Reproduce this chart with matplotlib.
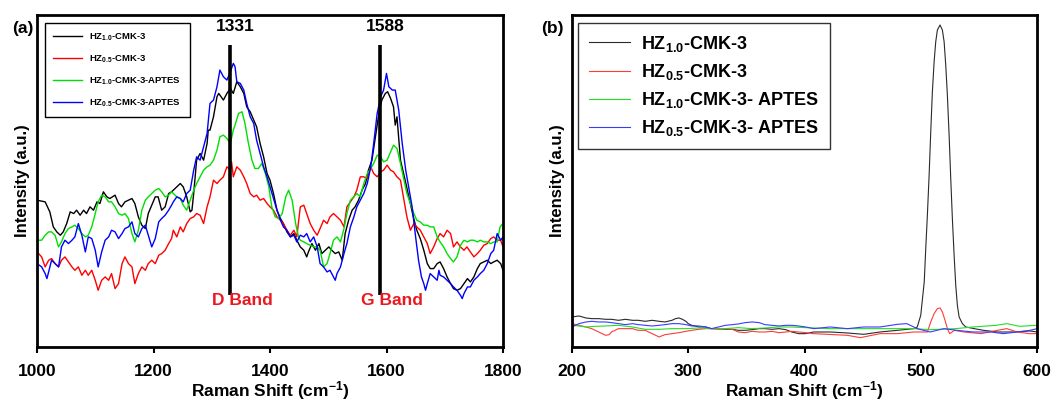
import numpy as np
import matplotlib
matplotlib.use("Agg")
import matplotlib.pyplot as plt

plt.rcParams['font.family'] = ['Liberation Sans', 'DejaVu Sans']
plt.rcParams['font.weight'] = 'bold'
plt.rcParams['mathtext.fontset'] = 'custom'
plt.rcParams['mathtext.rm'] = 'Liberation Sans:bold'
plt.rcParams['mathtext.bf'] = 'Liberation Sans:bold'
plt.rcParams['mathtext.it'] = 'Liberation Sans:bold'

# ---- (a) D / G band region ----
black_x = [1000, 1014, 1022, 1028, 1034, 1040, 1045, 1051, 1057, 1063, 1068, 1074, 1080, 1085, 1091, 1097, 1103, 1108, 1114, 1120,
           1125, 1134, 1140, 1145, 1151, 1157, 1163, 1168, 1174, 1180, 1186, 1191, 1197, 1203, 1208, 1214, 1220, 1226, 1231,
           1237, 1246, 1251, 1257, 1263, 1266, 1269, 1274, 1280, 1286, 1292, 1294, 1297, 1303, 1309, 1312, 1314, 1320, 1326, 1332,
           1337, 1343, 1349, 1355, 1360, 1366, 1372, 1377, 1383, 1389, 1395, 1400, 1406, 1412, 1418, 1423, 1429, 1435, 1441, 1446,
           1452, 1458, 1463, 1466, 1472, 1478, 1484, 1489, 1495, 1501, 1506, 1512, 1518, 1524, 1529, 1535, 1541, 1546, 1552, 1558,
           1564, 1569, 1575, 1581, 1587, 1592, 1598, 1602, 1607, 1612, 1615, 1618, 1624,
           1632, 1646, 1652, 1658, 1664, 1670, 1675, 1681, 1687, 1692, 1698, 1704, 1710, 1715, 1721, 1727, 1733, 1739, 1744, 1750,
           1756, 1761, 1767, 1773, 1779, 1784, 1790, 1796, 1800]
black_y = [44.0, 43.5, 40.5, 36, 34.5, 33.5, 34.5, 37, 40.5, 40, 41, 39.5, 41, 40, 42, 41, 43.5, 43, 46.5, 45,
           44.5, 45.5, 43, 42, 43.5, 44, 44.5, 43, 39, 36.5, 35.5, 40, 42.5, 45, 45, 41, 42, 46, 46.5,
           47.5, 49, 48, 45, 40.5, 41, 46, 56, 58, 56, 61, 65, 65, 69, 75, 76, 75.5, 74, 76, 77.5,
           76, 79.5, 78, 76, 72, 70.5, 68, 66, 61, 57, 52, 50, 46, 41, 38.5, 37, 34.5, 33, 34, 32,
           30, 29, 27, 28.5, 31, 29, 31, 28, 29, 30, 29, 28, 28.5, 26, 34, 38, 41, 42, 44, 47,
           49, 53, 56, 63, 70, 74, 76, 76.5, 74.5, 72, 66.5, 69, 56,
           50, 39, 35, 32.5, 29, 25, 23.5, 23.5, 25, 25.5, 23.5, 21, 19, 17.5, 17, 17.5, 19, 20.5, 19.5, 21,
           23.5, 25, 25.5, 26, 25, 25.5, 26, 25, 23]

red_x = [1000, 1008, 1014, 1020, 1025, 1031, 1037, 1042, 1048, 1054, 1060, 1065, 1071, 1077, 1083, 1088, 1094, 1100, 1105, 1111,
         1117, 1123, 1128, 1134, 1140, 1146, 1151, 1157, 1163, 1168, 1174, 1180, 1186, 1191, 1197, 1203, 1209, 1214, 1220, 1226, 1231,
         1234, 1240, 1246, 1251, 1257, 1263, 1269, 1274, 1280, 1286, 1292, 1297, 1303, 1309, 1314, 1320, 1326, 1332, 1334, 1337,
         1343, 1349, 1355, 1360, 1366, 1372, 1377, 1383, 1389, 1395, 1400, 1406, 1412, 1418, 1423, 1429, 1435, 1441, 1446,
         1452, 1458, 1463, 1469, 1475, 1481, 1486, 1492, 1498, 1503, 1509, 1515, 1521, 1527, 1532, 1538, 1544, 1549, 1555, 1561,
         1567, 1573, 1578, 1584, 1590, 1595, 1601, 1607, 1612, 1618, 1624, 1630, 1635, 1641,
         1647, 1652, 1658, 1664, 1670, 1675, 1681, 1687, 1692, 1698, 1704, 1710, 1715, 1721, 1727, 1733, 1738, 1744, 1750, 1756,
         1761, 1767, 1773, 1779, 1784, 1790, 1796, 1800]
red_y = [28.5, 27, 24, 26, 26.5, 25, 24, 26, 27, 25.5, 24, 23, 24, 21.5, 23, 21.5, 23, 20, 17, 20,
         21, 20, 22, 17.5, 19, 25, 27, 25, 24, 19, 22, 24, 23, 25, 26, 25, 27.5, 28, 29, 31, 32.5,
         35, 33, 36, 34.5, 37, 38.5, 39, 40, 39.5, 37, 42, 45, 50, 49, 50, 51, 54, 53, 55.5, 51,
         54, 53, 51, 49, 46, 45, 45.5, 44, 44.5, 43, 42, 41, 39, 38, 37, 35, 33.5, 35, 33,
         42, 42.5, 40, 37, 35, 33.5, 35.5, 38, 37, 39, 40, 39, 38, 36, 42, 43.5, 45, 47, 51, 51,
         50.5, 54, 52, 51, 52.5, 53, 54.5, 53, 52.5, 51, 50, 44, 39, 35,
         37, 36, 35, 33, 31, 28, 30, 32.5, 34, 33, 35, 34, 30, 31.5, 30, 29, 30, 28.5, 27, 28,
         29, 30.5, 31, 32.5, 33, 32, 32, 30]

green_x = [1000, 1008, 1014, 1020, 1025, 1031, 1037, 1042, 1048, 1054, 1060, 1065, 1071, 1077, 1083, 1088, 1094, 1100, 1105, 1111,
           1117, 1123, 1128, 1134, 1140, 1146, 1151, 1157, 1163, 1168, 1174, 1180, 1186, 1191, 1197, 1203, 1209, 1214, 1220, 1226, 1231,
           1234, 1240, 1246, 1251, 1257, 1263, 1269, 1274, 1280, 1286, 1292, 1297, 1303, 1309, 1314, 1320, 1326, 1332, 1337, 1340,
           1346, 1352, 1357, 1363, 1369, 1374, 1380, 1386, 1392, 1398, 1403, 1409, 1415, 1421, 1427, 1432, 1438, 1444, 1449,
           1452, 1458, 1463, 1469, 1475, 1481, 1486, 1492, 1498, 1503, 1509, 1515, 1521, 1527, 1532, 1538, 1544, 1549, 1555, 1561,
           1567, 1573, 1578, 1584, 1590, 1595, 1601, 1607, 1612, 1618, 1624, 1630, 1635, 1641, 1647,
           1652, 1658, 1664, 1670, 1675, 1681, 1687, 1692, 1698, 1704, 1710, 1715, 1721, 1727, 1733, 1739, 1744, 1750, 1756, 1761,
           1767, 1773, 1779, 1784, 1790, 1795, 1800]
green_y = [32, 32, 33.5, 34.5, 34.5, 33.5, 30, 31.5, 34, 35.5, 36, 36.5, 35.5, 34, 33, 33.5, 36, 40, 43.5, 45.5,
           45, 43.5, 43.5, 42, 40, 39.5, 40, 38.5, 34, 31.5, 35, 41, 44, 45, 46, 47, 47.5, 46.5, 45, 45.5, 46.5,
           46, 45, 44.5, 42.5, 41, 44, 47, 49, 51, 53, 54, 54.5, 56, 59, 63, 63.5, 62.5, 61, 65, 66.5,
           70, 70.5, 67, 61, 56, 53.5, 53.5, 55, 52, 48, 42, 39, 38.5, 40, 45, 47, 44, 37, 33,
           32, 31.5, 31, 30.5, 30, 30, 29, 24, 25, 28, 32, 33, 31.5, 35.5, 40, 44, 45, 46, 45, 49,
           52, 53.5, 55, 57.5, 57, 55.5, 56, 58.5, 60.5, 59.5, 55, 50, 46, 43, 40,
           38, 37.5, 36.5, 36.5, 36, 36, 33, 31.5, 30, 28, 26.5, 25.5, 27, 30.5, 32, 31.5, 32, 32, 31.5, 32,
           31.5, 31.5, 31, 31.5, 31.5, 36, 37]

blue_x = [1000, 1008, 1014, 1017, 1020, 1025, 1031, 1037, 1042, 1048, 1054, 1060, 1065, 1071, 1077, 1083, 1088, 1094, 1100, 1105,
          1111, 1117, 1123, 1128, 1134, 1140, 1146, 1151, 1157, 1163, 1168, 1174, 1180, 1186, 1191, 1197, 1203, 1209, 1214, 1220,
          1226, 1231,
          1234, 1240, 1246, 1251, 1257, 1263, 1269, 1274, 1280, 1286, 1292, 1297, 1303, 1309, 1314, 1320, 1326, 1332, 1337, 1340,
          1343, 1349, 1355, 1360, 1366, 1372, 1377, 1383, 1389, 1395, 1400, 1406, 1412, 1418, 1423, 1429, 1435, 1441, 1446,
          1452, 1458, 1463, 1469, 1475, 1481, 1486, 1492, 1498, 1503, 1509, 1512, 1515, 1521, 1527, 1532, 1538, 1544, 1549, 1555,
          1561, 1567, 1573, 1578, 1584, 1590, 1595, 1600, 1604, 1610, 1615, 1621, 1627, 1633, 1638,
          1644, 1650, 1655, 1660, 1664, 1667, 1670, 1675, 1681, 1687, 1690, 1692, 1698, 1704, 1710, 1715, 1721, 1727, 1730, 1733,
          1739, 1744, 1750, 1756, 1761, 1767, 1773, 1779, 1784, 1790, 1796, 1800]
blue_y = [25, 24, 22, 20.5, 22.5, 26, 25, 24, 30, 32, 31, 32, 33, 37, 33.5, 28.5, 33, 32.5, 29, 24,
          28.5, 32, 33, 35, 34.5, 32.5, 34, 35.5, 36, 37.5, 34, 33, 35.5, 36.5, 33.5, 30, 32.5, 37.5, 38.5, 39.5,
          41, 42.5,
          43.5, 45, 44.5, 43.5, 46, 47, 53, 57, 56, 60, 64, 73, 74, 78, 83, 81, 80, 82.5, 85, 84,
          79.5, 79, 77, 73, 69, 67, 62, 58, 54, 51, 48, 44.5, 41, 38, 36, 35, 33, 33.5, 31.5,
          33.5, 33, 34, 31.5, 33, 30, 25, 24, 22.5, 23, 21, 20, 22, 24, 28, 31, 36, 39, 42, 44,
          46, 49, 54, 61, 70, 75, 77, 82, 78, 77, 77, 71, 61, 53, 48,
          42, 33, 26, 21, 19, 17, 19, 22, 21, 20, 23, 21.5, 21, 20, 19, 18, 17, 15.5, 14.5, 16,
          18, 18, 20, 21, 22, 23, 25, 28, 29, 34, 32, 33]

band_pos = [1331, 1588]
band_names = ['D Band', 'G Band']

# ---- (b) low-wavenumber region ----
black_b_x = [200, 206, 212, 217, 223, 229, 234, 240, 246, 252, 257, 263, 269, 275, 280, 286, 289, 292, 295, 298,
             300, 303, 306, 309, 315, 320, 326, 332, 338, 343, 349, 355, 361, 366, 372, 378, 384, 389, 395, 401,
             408, 422, 437, 451, 465, 480, 494, 497, 500, 503, 504.3, 505.7, 507.2, 508.6, 510, 511.5, 512.9, 514.3,
             516.6, 518.6, 520.1, 521.5, 522.9, 524.4, 525.8, 527.2, 528.7, 530.1, 531.5, 533, 535.8, 538.7,
             546, 554, 566, 580, 594, 600]
black_b_y = [9, 9.3, 8.7, 8.5, 8.5, 8.3, 8.3, 8, 8.3, 8, 8, 7.7, 8, 7.7, 7.5, 8, 8.5, 8.7, 8.3, 7.7,
             7, 6.5, 6.3, 6, 6, 5.5, 5.5, 5.3, 5.3, 5, 5, 5.2, 5.5, 5.5, 5.3, 5.5, 5.2, 4.5, 4, 4,
             4.5, 4.5, 4.2, 3.8, 4.5, 5, 5.5, 6, 9.5, 19.5, 29.5, 39.5, 51.5, 64.5, 76.5, 85.5, 91.5, 95,
             96.5, 95, 91.5, 84.5, 75.5, 63.5, 50.5, 38.5, 27.5, 18.5, 12.5, 9, 7, 6,
             5.5, 5, 4.5, 4.5, 4.8, 4.5]

red_b_x = [200, 206, 212, 217, 223, 226, 229, 232, 234, 240, 246, 252, 257, 263, 269, 272, 275, 277, 280, 286,
           292, 298, 303, 309, 315, 320, 326, 332, 338, 343, 349, 355, 361, 366, 372, 378, 384, 389, 395, 401,
           408, 437, 448, 465, 480, 494, 505.7, 508.6, 511.5, 514.3, 516.6, 518.6, 520.9, 522.9, 524.9,
           529, 537, 552, 566, 574, 583, 594, 600]
red_b_y = [7, 6.5, 6, 5.5, 4.5, 4, 3.5, 3.7, 4.5, 5.5, 5.5, 5.5, 5, 5, 4, 3.5, 3, 3.3, 3.7, 4,
           4.3, 4.7, 5, 5.3, 5.5, 5.5, 5.3, 5.5, 5.3, 4.5, 4.3, 4.7, 4.5, 4.5, 4.7, 4.3, 4.5, 4.7, 4.5, 4.3,
           4, 3.5, 2.8, 4, 4, 4.5, 4.5, 7.5, 10, 11.5, 11.7, 10.5, 8, 5.5, 4,
           5, 4.5, 4, 5, 5.5, 4.5, 4, 4]

green_b_x = [200, 206, 212, 220, 229, 240, 252, 263, 275, 286, 298, 309, 320, 332, 343, 355, 366, 378, 389, 401,
             422, 451, 480, 494, 508, 530, 545, 565, 574, 585, 600]
green_b_y = [6.5, 6.3, 6, 6.2, 6.3, 6.5, 6, 5.3, 5.3, 5.5, 5.5, 5.7, 5.5, 5.5, 5.8, 5.5, 5.7, 6, 6, 5.8,
             5.5, 5.5, 5.5, 5.5, 5.2, 5.5, 6, 6.5, 7, 6.2, 6.5]

blue_b_x = [200, 203, 206, 212, 217, 223, 229, 234, 240, 246, 252, 257, 263, 269, 275, 280, 286, 292, 298, 303,
            309, 315, 320, 326, 332, 338, 343, 349, 355, 361, 366, 372, 378, 384, 389, 395, 401, 408, 422, 437,
            451, 465, 480, 488, 497, 508, 520, 531, 545, 560, 571, 583, 594, 600]
blue_b_y = [6, 6.5, 7, 7.5, 7.7, 7.5, 7.5, 7.3, 7, 6.7, 7, 6.7, 6.5, 6.3, 6.5, 6.7, 7, 7, 6.7, 6.3,
            6.3, 6, 5.5, 6, 6.5, 6.7, 6.9, 7.3, 7.5, 7.3, 6.7, 6.5, 6.3, 6.5, 6.5, 6.3, 6, 5.5, 6, 5.5,
            6, 6, 6.8, 7, 5.5, 4.5, 5.5, 5, 4.5, 4.5, 4, 4.5, 5, 5.5]

labels_a = [r'HZ$_{1.0}$-CMK-3', r'HZ$_{0.5}$-CMK-3', r'HZ$_{1.0}$-CMK-3-APTES', r'HZ$_{0.5}$-CMK-3-APTES']
labels_b = [r'HZ$_{1.0}$-CMK-3', r'HZ$_{0.5}$-CMK-3', r'HZ$_{1.0}$-CMK-3- APTES', r'HZ$_{0.5}$-CMK-3- APTES']

fig = plt.figure(figsize=(10.62, 4.05), dpi=100)
ax1 = fig.add_axes([37 / 1062, 58 / 405, 466 / 1062, 332 / 405])
ax2 = fig.add_axes([572 / 1062, 58 / 405, 465 / 1062, 332 / 405])

series_a = [(black_x, black_y, 'black'), (red_x, red_y, 'red'),
            (green_x, green_y, '#00e000'), (blue_x, blue_y, 'blue')]
for (xs, ys, c), lab in zip(series_a, labels_a):
    ax1.plot(xs, ys, color=c, lw=1.0, label=lab)

for pos, name, num in zip(band_pos, band_names, ['1331', '1588']):
    ax1.plot([pos, pos], [15.5, 90.5], color='black', lw=2.6, solid_capstyle='butt')
    ax1.text(pos + 10, 96, num, ha='center', va='center', fontsize=12.5, fontweight='bold')
    ax1.text(pos + 22, 14, name, ha='center', va='center', fontsize=12.5, fontweight='bold', color='#e8191f')

ax1.set_xlim(1000, 1800)
ax1.set_ylim(0, 99.5)
ax1.set_xticks([1000, 1200, 1400, 1600, 1800])
ax1.set_yticks([])
ax1.set_xlabel('Raman Shift (cm$^{-1}$)', fontsize=12.5, fontweight='bold', labelpad=0)
ax1.set_ylabel('Intensity (a.u.)', fontsize=12, fontweight='bold', labelpad=5)
leg1 = ax1.legend(loc='upper left', bbox_to_anchor=(0.017, 0.976), borderaxespad=0, fancybox=False,
                  edgecolor='black', framealpha=1, prop={'size': 6.8, 'weight': 'bold'},
                  handlelength=3.0, labelspacing=1.1, borderpad=0.9)
leg1.get_frame().set_linewidth(1.0)
fig.text(12 / 1062, 1 - 28 / 405, '(a)', fontsize=12.5, fontweight='bold', va='center', ha='left')

series_b = [(black_b_x, black_b_y, '#2a2a2a'), (red_b_x, red_b_y, '#ff3a3a'),
            (green_b_x, green_b_y, '#22e022'), (blue_b_x, blue_b_y, '#3a3aff')]
for (xs, ys, c), lab in zip(series_b, labels_b):
    ax2.plot(xs, ys, color=c, lw=0.8, label=lab)

ax2.set_xlim(200, 600)
ax2.set_ylim(0, 99.5)
ax2.set_xticks([200, 300, 400, 500, 600])
ax2.set_yticks([])
ax2.set_xlabel('Raman Shift (cm$^{-1}$)', fontsize=12.5, fontweight='bold', labelpad=0)
ax2.set_ylabel('Intensity (a.u.)', fontsize=12, fontweight='bold', labelpad=5)
leg2 = ax2.legend(loc='upper left', bbox_to_anchor=(0.013, 0.976), borderaxespad=0, fancybox=False,
                  edgecolor='#333333', framealpha=1, prop={'size': 13, 'weight': 'bold'},
                  handlelength=2.3, handletextpad=0.6, labelspacing=0.45, borderpad=0.6)
leg2.get_frame().set_linewidth(1.0)
fig.text(541 / 1062, 1 - 28 / 405, '(b)', fontsize=12.5, fontweight='bold', va='center', ha='left')

for ax in (ax1, ax2):
    for sp in ax.spines.values():
        sp.set_linewidth(2.0)
    ax.tick_params(axis='x', direction='out', length=4, width=1.5, labelsize=12.5, pad=8)

fig.savefig('out.png', dpi=100)
